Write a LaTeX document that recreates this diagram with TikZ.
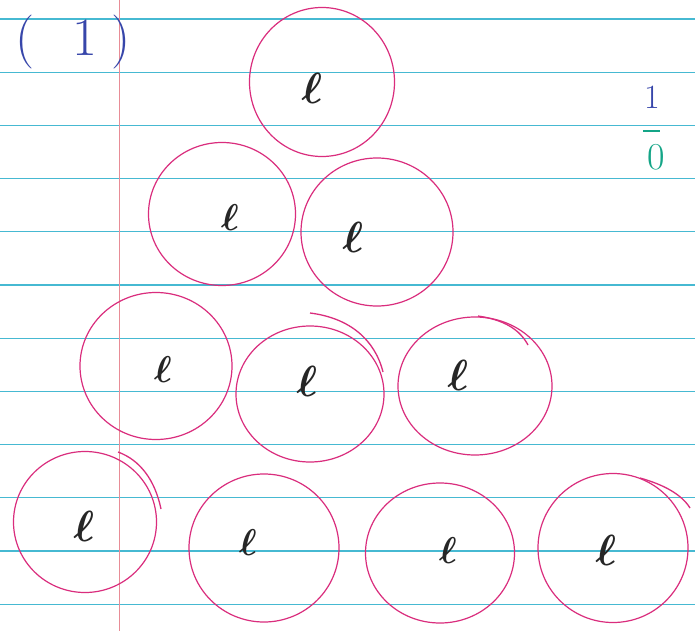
\documentclass[tikz,border=0pt]{standalone}
\usetikzlibrary{shapes.geometric}
\definecolor{ruled}{RGB}{70,185,210}
\definecolor{marginred}{RGB}{232,140,150}
\definecolor{ink}{RGB}{218,45,125}
\definecolor{pen}{RGB}{55,70,170}
\definecolor{tealpen}{RGB}{20,165,135}
\tikzset{
  ring/.style={draw=ink, line width=1.2pt, ellipse, inner sep=0pt},
  letter/.style={text=black!85, font=\fontsize{24}{24}\selectfont\boldmath, inner sep=0pt, scale=1.75},
  smallletter/.style={text=black!85, font=\fontsize{24}{24}\selectfont\boldmath, inner sep=0pt, scale=1.5},
  rule/.style={draw=ruled, line width=1.2pt},
  overshoot/.style={draw=ink, line width=1.3pt},
}
\begin{document}
\begin{tikzpicture}[x=1pt,y=-1pt]
\useasboundingbox (0,0) rectangle (695,631);
\fill[white] (0,0) rectangle (695,631);
% ruled lines
\foreach \k in {0,...,11}{
  \draw[rule] (0,{19+53.2*\k}) -- (695,{19+53.2*\k});
}
% margin line
\draw[draw=marginred, line width=0.9pt] (119,0) -- (119,631);
% heading
\node[text=pen, font=\fontsize{54}{54}\selectfont, anchor=west] (title) at (12,42) {(\hspace{38pt}1\hspace{14pt})};
% fraction at right
\node[text=pen, font=\fontsize{34}{34}\selectfont] (num) at (652,97) {1};
\coordinate (barl) at (643,131);
\coordinate (barr) at (660,131);
\draw[tealpen, line width=1.8pt] (barl) -- (barr);
\node[text=tealpen, font=\fontsize{38}{38}\selectfont] (den) at (656,157) {0};
% circles
\node[ring, minimum width=145pt, minimum height=149pt] (c1) at (322,82) {};
\node[ring, minimum width=147pt, minimum height=143pt] (c2) at (222,214) {};
\node[ring, minimum width=152pt, minimum height=148pt] (c3) at (377,232) {};
\node[ring, minimum width=152pt, minimum height=147pt] (c4) at (156,366) {};
\node[ring, minimum width=148pt, minimum height=136pt] (c5) at (310,394) {};
\node[ring, minimum width=154pt, minimum height=138pt] (c6) at (475,386) {};
\node[ring, minimum width=143pt, minimum height=141pt] (c7) at (85,522) {};
\node[ring, minimum width=150pt, minimum height=148pt] (c8) at (264,548) {};
\node[ring, minimum width=149pt, minimum height=140pt] (c9) at (440,553) {};
\node[ring, minimum width=150pt, minimum height=149pt] (c10) at (613,548) {};
% overshoot strokes
\draw[overshoot] (310,313) .. controls (350,318) and (375,340) .. (383,372);
\draw[overshoot] (478,316) .. controls (505,320) and (520,330) .. (528,345);
\draw[overshoot] (118,452) .. controls (140,460) and (155,480) .. (161,509);
\draw[overshoot] (640,478) .. controls (665,485) and (682,495) .. (690,508);
% letters
\node[letter] (e1) at (312,88) {$\ell$};
\node[smallletter] (e2) at (230,218) {$\ell$};
\node[letter] (e3) at (353,237) {$\ell$};
\node[smallletter] (e4) at (163,370) {$\ell$};
\node[letter] (e5) at (307,381) {$\ell$};
\node[letter] (e6) at (458,375) {$\ell$};
\node[letter] (e7) at (84,526) {$\ell$};
\node[smallletter] (e8) at (248,543) {$\ell$};
\node[smallletter] (e9) at (448,551) {$\ell$};
\node[letter] (e10) at (606,550) {$\ell$};
\end{tikzpicture}
\end{document}
